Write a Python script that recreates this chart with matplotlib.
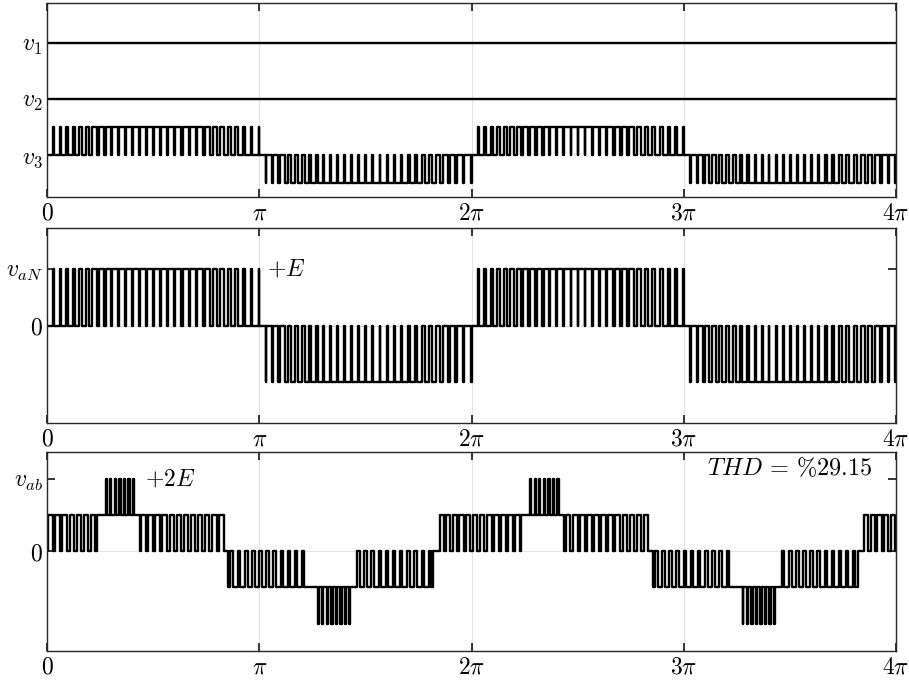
import numpy as np
import matplotlib
matplotlib.use("Agg")
import matplotlib.pyplot as plt

plt.rcParams['mathtext.fontset'] = 'cm'
plt.rcParams['font.family'] = ['DejaVu Serif']

PI = np.pi

# ---------------- data ----------------
x_tick_vals = [0, 1, 2, 3, 4]                      # multiples of pi
x_tick_labels = [r'$0$', r'$\pi$', r'$2\pi$', r'$3\pi$', r'$4\pi$']

# high-time fraction of each carrier cell in one half period (phase a)
aN_duty = [0.09, 0.19, 0.28, 0.37, 0.45, 0.53, 0.60, 0.67, 0.73, 0.78,
           0.82, 0.86, 0.88, 0.89, 0.90, 0.90, 0.89, 0.88, 0.86, 0.82,
           0.78, 0.73, 0.67, 0.60, 0.53, 0.45, 0.37, 0.28, 0.19, 0.09]
half_signs = [1, -1, 1, -1]                          # polarity of each half period

# top panel levels
v_levels = [2.0, 1.0, 0.0]
v_labels = [r'$v_1$', r'$v_2$', r'$v_3$']
v3_swing = 0.5

# v_ab segments over one fundamental period (units of pi, levels in E)
ab_seg_start = [0.000, 0.234, 0.268, 0.418, 0.438, 0.839, 0.854, 1.224, 1.278, 1.428, 1.451, 1.820, 1.844]
ab_seg_end = [0.234, 0.268, 0.418, 0.438, 0.839, 0.854, 1.224, 1.278, 1.428, 1.451, 1.820, 1.844, 2.000]
ab_seg_low = [0, 1, 1, 1, 0, 0, -1, -1, -2, -1, -1, 0, 0]
ab_seg_high = [1, 1, 2, 1, 1, 0, 0, -1, -1, -1, 0, 0, 1]
ab_seg_duty = [
    [0.66, 0.65, 0.64, 0.64, 0.64, 0.65, 0.66],
    [],
    [0.28, 0.30, 0.32, 0.33, 0.32, 0.30, 0.28],
    [],
    [0.70, 0.70, 0.68, 0.68, 0.66, 0.66, 0.64, 0.62, 0.62, 0.60, 0.60, 0.60],
    [],
    [0.40, 0.40, 0.40, 0.40, 0.36, 0.36, 0.35, 0.35, 0.34, 0.34, 0.34],
    [],
    [0.72, 0.70, 0.68, 0.67, 0.68, 0.70, 0.72],
    [],
    [0.40, 0.40, 0.38, 0.38, 0.36, 0.35, 0.34, 0.32, 0.32, 0.30, 0.30],
    [],
    [0.60, 0.62, 0.64, 0.65, 0.66],
]
n_periods = 2

thd_text = r'$THD\,=\,\%29.15$'

# ---------------- waveform builders ----------------
def build_aN(scale):
    ts, vs = [0.0], [0.0]
    n = len(aN_duty)
    T = PI / n
    for h, s in enumerate(half_signs):
        for k, d in enumerate(aN_duty):
            c1 = h * PI + (k + 1) * T
            ts += [c1 - d * T, c1]
            vs += [s * scale, 0.0]
    return np.array(ts), np.array(vs)


def build_ab():
    ts, vs = [], []
    for p in range(n_periods):
        for a, b, lo, hi, dl in zip(ab_seg_start, ab_seg_end, ab_seg_low,
                                    ab_seg_high, ab_seg_duty):
            t0 = (a + 2 * p) * PI
            t1 = (b + 2 * p) * PI
            if not dl:
                ts.append(t0); vs.append(lo)
                continue
            w = (t1 - t0) / len(dl)
            for k, d in enumerate(dl):
                cm = t0 + (k + 0.5) * w
                ts += [t0 + k * w, cm - d * w / 2, cm + d * w / 2]
                vs += [lo, hi, lo]
    ts.append(4 * PI); vs.append(vs[-1])
    return np.array(ts), np.array(vs)


# ---------------- figure ----------------
fig = plt.figure(figsize=(9.09, 6.81), dpi=100)
L, W = 47 / 909, 849 / 909
ax1 = fig.add_axes([L, 1 - 197 / 681, W, 194 / 681])
ax2 = fig.add_axes([L, 1 - 423 / 681, W, 195 / 681])
ax3 = fig.add_axes([L, 1 - 651 / 681, W, 199 / 681])

lw = 1.7
fs = 17
# top panel
ax1.plot([0, 4 * PI], [v_levels[0]] * 2, color='black', lw=lw)
ax1.plot([0, 4 * PI], [v_levels[1]] * 2, color='black', lw=lw)
t3, y3 = build_aN(v3_swing)
ax1.plot(t3, y3 + v_levels[2], drawstyle='steps-post', color='black', lw=lw)
ax1.set_ylim(-0.75, 2.714)
ax1.set_yticks(v_levels)
ax1.set_yticklabels(v_labels)

# middle panel
ta, ya = build_aN(1.0)
ax2.axhline(0, color='#e3e3e3', lw=0.8, zorder=0)
ax2.plot(ta, ya, drawstyle='steps-post', color='black', lw=lw)
ax2.set_ylim(-1.72, 1.72)
ax2.set_yticks([0, 1])
ax2.set_yticklabels([r'$0$', r'$v_{aN}$'])
ax2.text(1.035 * PI, 1.0, r'$+E$', fontsize=fs, ha='left', va='center')

# bottom panel
tb, yb = build_ab()
ax3.axhline(0, color='#e3e3e3', lw=0.8, zorder=0)
ax3.plot(tb, yb, drawstyle='steps-post', color='black', lw=lw)
ax3.set_ylim(-2.76, 2.74)
ax3.set_yticks([0, 2])
ax3.set_yticklabels([r'$0$', r'$v_{ab}$'])
ax3.text(0.462 * PI, 2.0, r'$+2E$', fontsize=fs, ha='left', va='center')
ax3.text(3.89 * PI, 2.28, thd_text, fontsize=fs + 0.5, ha='right', va='center')

for ax in (ax1, ax2, ax3):
    ax.set_xlim(0, 4 * PI)
    ax.set_xticks([v * PI for v in x_tick_vals])
    ax.set_xticklabels(x_tick_labels)
    ax.grid(True, axis='x', color='#e3e3e3', lw=0.8)
    ax.set_axisbelow(True)
    ax.tick_params(direction='in', length=6, width=1.3, top=True, right=True,
                   labelsize=fs, pad=3, color='#262626')
    for sp in ax.spines.values():
        sp.set_linewidth(1.0)
        sp.set_color('#262626')

fig.savefig('out.png', dpi=100)
